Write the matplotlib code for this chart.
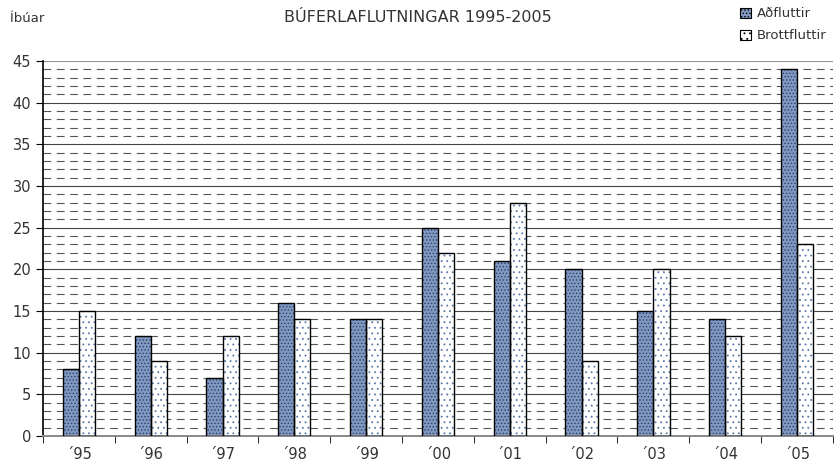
import matplotlib
matplotlib.use("Agg")
import matplotlib.pyplot as plt
import numpy as np
from matplotlib.patches import Patch

categories = ["´95", "´96", "´97", "´98", "´99", "´00", "´01", "´02", "´03", "´04", "´05"]
adfluttir = [8, 12, 7, 16, 14, 25, 21, 20, 15, 14, 44]
brottfluttir = [15, 9, 12, 14, 14, 22, 28, 9, 20, 12, 23]

plt.rcParams['font.family'] = ['DejaVu Sans']
plt.rcParams['hatch.linewidth'] = 0.6

fig = plt.figure(figsize=(8.35, 4.63), dpi=100)
ax = fig.add_axes([0.0515, 0.0583, 0.946, 0.81])

x = np.arange(len(categories))
w = 0.225
dark_face = '#8199c2'
dark_hatch = '#2c3f66'
light_hatch = '#5a7aa8'

# gridlines
for v in range(0, 46):
    if v % 5 == 0:
        if v in (0, 45):
            continue
        ax.axhline(v, color='#444444', lw=0.8, zorder=0.5)
    else:
        ax.axhline(v, color='#555555', lw=0.8, ls=(0, (7, 5)), zorder=0.5)
ax.axhline(45, color='#999999', lw=1.6, zorder=0.5)

ax.bar(x - w/2, adfluttir, w, facecolor=dark_face, edgecolor=dark_hatch, hatch='.....', lw=0, zorder=2)
ax.bar(x - w/2, adfluttir, w, facecolor='none', edgecolor='black', lw=1.0, zorder=3)
ax.bar(x + w/2, brottfluttir, w, facecolor='white', edgecolor=light_hatch, hatch='...', lw=0, zorder=2)
ax.bar(x + w/2, brottfluttir, w, facecolor='none', edgecolor='black', lw=1.0, zorder=3)

ax.set_xlim(-0.5, len(categories) - 0.5)
ax.set_ylim(0, 45)
ax.set_yticks(range(0, 46, 5))
ax.set_xticks(x)
ax.set_xticklabels(categories)
ax.set_xticks(np.arange(-0.5, len(categories) - 0.4, 1), minor=True)
ax.tick_params(axis='x', which='major', length=0, labelsize=10.5, colors='#333333', pad=8)
ax.tick_params(axis='x', which='minor', length=5, color='black', direction='out')
ax.tick_params(axis='y', length=5, labelsize=10.5, colors='#333333', color='black', direction='out')
for lab in ax.get_yticklabels():
    lab.set_color('#333333')

for s in ['top', 'right']:
    ax.spines[s].set_visible(False)
ax.spines['left'].set_color('black')
ax.spines['left'].set_linewidth(1.2)
ax.spines['bottom'].set_color('#888888')
ax.spines['bottom'].set_linewidth(1.4)

fig.text(0.5, 0.962, "BÚFERLAFLUTNINGAR 1995-2005", ha='center', va='center', fontsize=11.5, color='#333333')
fig.text(0.012, 0.960, "Íbúar", ha='left', va='center', fontsize=9.5, color='#333333')

handles = [Patch(facecolor=dark_face, edgecolor=dark_hatch, hatch='.....', lw=0.8),
           Patch(facecolor='white', edgecolor=light_hatch, hatch='...', lw=0.8)]
leg = fig.legend(handles, ["Aðfluttir", "Brottfluttir"], loc='upper left', bbox_to_anchor=(0.872, 1.01),
                 frameon=False, fontsize=9.5, handlelength=0.8, handleheight=0.8, handletextpad=0.5,
                 labelspacing=0.7)
for t in leg.get_texts():
    t.set_color('#333333')
for p in leg.get_patches():
    p.set_edgecolor('black')

fig.savefig("out.png", dpi=100)
